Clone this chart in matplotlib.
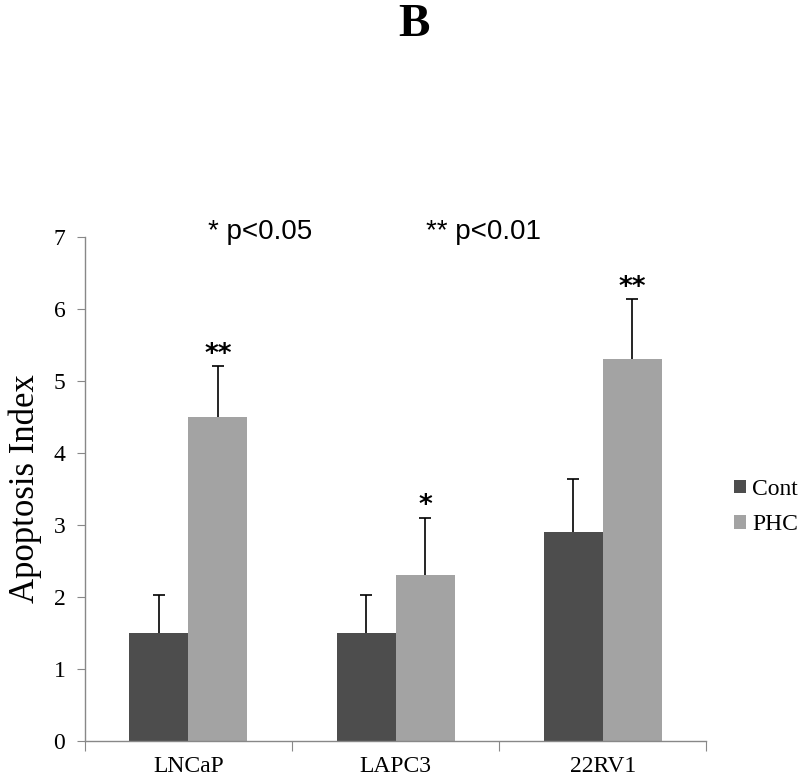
import numpy as np
import matplotlib.pyplot as plt

cells = ['LNCaP', 'LAPC3', '22RV1']
cont = [1.5, 1.5, 2.9]
cont_err = [0.52, 0.52, 0.74]
phc = [4.5, 2.3, 5.3]
phc_err = [0.7, 0.8, 0.83]
stars = ['**', '*', '**']

serif = ['Liberation Serif', 'DejaVu Serif']

fig = plt.figure(figsize=(8, 7.79), dpi=100)
ax = fig.add_axes([0.106, 0.049, 0.777, 0.647])

x = np.arange(len(cells)) + 0.5
w = 0.285

ax.bar(x - w / 2, cont, w, color='#4d4d4d', label='Cont')
ax.bar(x + w / 2, phc, w, color='#a3a3a3', label='PHC')

# only upper error bars, hide the lower caps
for xs, vals, errs in [(x - w / 2, cont, cont_err), (x + w / 2, phc, phc_err)]:
    eb = ax.errorbar(xs, vals, yerr=[np.zeros(3), errs], fmt='none',
                     ecolor='black', elinewidth=1.2, capsize=4, capthick=1.2)
    eb[1][0].set_visible(False)

for xi, v, e, s in zip(x, phc, phc_err, stars):
    ax.annotate(s, (xi + w / 2, v + e), xytext=(0, -1), textcoords='offset points',
                ha='center', va='bottom', fontsize=19, fontweight='bold',
                family='DejaVu Sans')

ax.set_xlim(0, 3)
ax.set_ylim(0, 7)
ax.set_xticks([0, 1, 2, 3])
ax.set_xticklabels([])
ax.set_xticks(x, minor=True)
ax.set_xticklabels(cells, minor=True, family=serif, fontsize=17)
ax.tick_params(axis='x', which='minor', length=0, pad=11)
ax.tick_params(axis='x', which='major', length=7, color='#888888', direction='out')
ax.set_yticks(range(8))
ax.set_yticklabels([str(i) for i in range(8)], family=serif, fontsize=17)
ax.tick_params(axis='y', length=6, color='#888888', pad=8)

for side in ['top', 'right']:
    ax.spines[side].set_visible(False)
for side in ['left', 'bottom']:
    ax.spines[side].set_color('#888888')
    ax.spines[side].set_linewidth(1)

ax.set_ylabel('Apoptosis Index', family=serif, fontsize=25, labelpad=8)

fig.legend(loc='center left', bbox_to_anchor=(0.918, 0.349), frameon=False,
           prop={'family': serif, 'size': 17}, handlelength=0.5, handleheight=0.5,
           handletextpad=0.25, labelspacing=0.6, borderpad=0, borderaxespad=0)

fig.text(0.325, 0.693, '* p<0.05', fontsize=20, family='Liberation Sans',
         ha='center', va='baseline')
fig.text(0.604, 0.693, '** p<0.01', fontsize=20, family='Liberation Sans',
         ha='center', va='baseline')

fig.text(0.517, 0.954, 'B', fontsize=34, fontweight='bold', family=serif,
         ha='center', va='baseline')

plt.savefig('out.png', dpi=100)
